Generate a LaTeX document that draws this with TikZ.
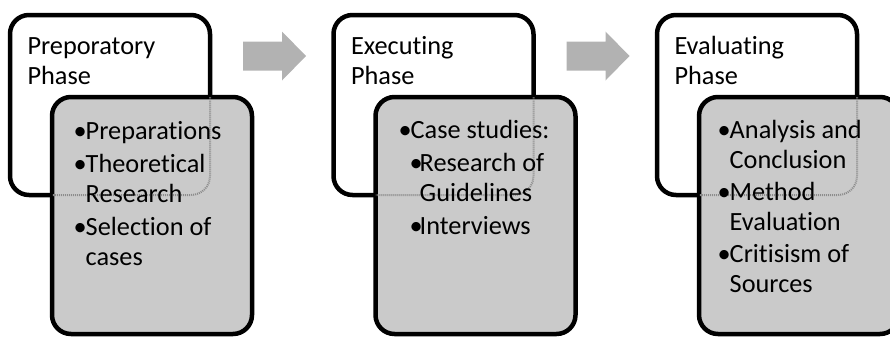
\documentclass[tikz,border=0pt]{standalone}
\usepackage{fontspec}
\setmainfont[RawFeature=-liga]{Carlito}
\definecolor{boxgray}{HTML}{CACACA}
\definecolor{arrowgray}{HTML}{B2B2B2}
\definecolor{seegray}{HTML}{8C8C8C}
% bullet with hanging indent, second-level bullet, continuation indent
\newcommand{\bul}{\makebox[12pt][l]{\textbullet}}
\newcommand{\subbul}{\hspace*{11pt}\makebox[10pt][l]{\textbullet}}
\newcommand{\cont}{\hspace*{12pt}}
\newcommand{\subcont}{\hspace*{21pt}}
\begin{document}
\begin{tikzpicture}[x=1pt,y=-1pt,
  phase/.style={draw=black, line width=4.5pt, rounded corners=19pt,
    outer sep=0pt, inner sep=0pt},
  backbox/.style={phase, fill=white, minimum width=200pt, minimum height=180pt},
  frontbox/.style={phase, fill=boxgray, minimum width=200pt, minimum height=237pt},
  seethru/.style={draw=seegray, line width=2pt, dash pattern=on 1pt off 1pt,
    rounded corners=19pt},
  label/.style={anchor=base west, inner sep=0pt, font=\fontsize{26.3}{30}\selectfont},
  blockarrow/.pic={\fill[arrowgray] (0,-14.5) -- (39,-14.5) -- (39,-24.5)
    -- (63,0) -- (39,24.5) -- (39,14.5) -- (0,14.5) -- cycle;}
]
\useasboundingbox (0,0) rectangle (890,338);

% arrows between the phases
\pic (arr1) at (243,56) {blockarrow};
\pic (arr2) at (566.5,56) {blockarrow};

% three phases: title card behind, task card in front
\foreach \i/\bx/\fx in {1/110/152, 2/433.5/475.5, 3/757/799} {
  \node[backbox] (back\i) at (\bx,105) {};
  \node[frontbox] (front\i) at (\fx,215.5) {};
  \begin{scope}
    \clip[rounded corners=19pt] (front\i.north west) rectangle (front\i.south east);
    \draw[seethru] (back\i.north west) rectangle (back\i.south east);
  \end{scope}
}

% titles
\node[label] (title1) at (27.3,54.3)
  {\begin{tabular}[t]{@{}l@{}}Preporatory\\Phase\end{tabular}};
\node[label] (title2) at (350.8,54.3)
  {\begin{tabular}[t]{@{}l@{}}Executing\\Phase\end{tabular}};
\node[label] (title3) at (674.3,54.3)
  {\begin{tabular}[t]{@{}l@{}}Evaluating\\Phase\end{tabular}};

% tasks
\node[label] (tasks1) at (73.5,139)
  {\begin{tabular}[t]{@{}l@{}}
    \bul Preparations\\[3pt]
    \bul Theoretical\\
    \cont Research\\[3pt]
    \bul Selection of\\
    \cont cases
  \end{tabular}};
\node[label] (tasks2) at (398.5,138)
  {\begin{tabular}[t]{@{}l@{}}
    \bul Case studies:\\[3pt]
    \subbul Research of\\
    \subcont Guidelines\\[3pt]
    \subbul Interviews
  \end{tabular}};
\node[label] (tasks3) at (717.5,138)
  {\begin{tabular}[t]{@{}l@{}}
    \bul Analysis and\\
    \cont Conclusion\\[2pt]
    \bul Method\\
    \cont Evaluation\\[2pt]
    \bul Critisism of\\
    \cont Sources
  \end{tabular}};
\end{tikzpicture}
\end{document}
